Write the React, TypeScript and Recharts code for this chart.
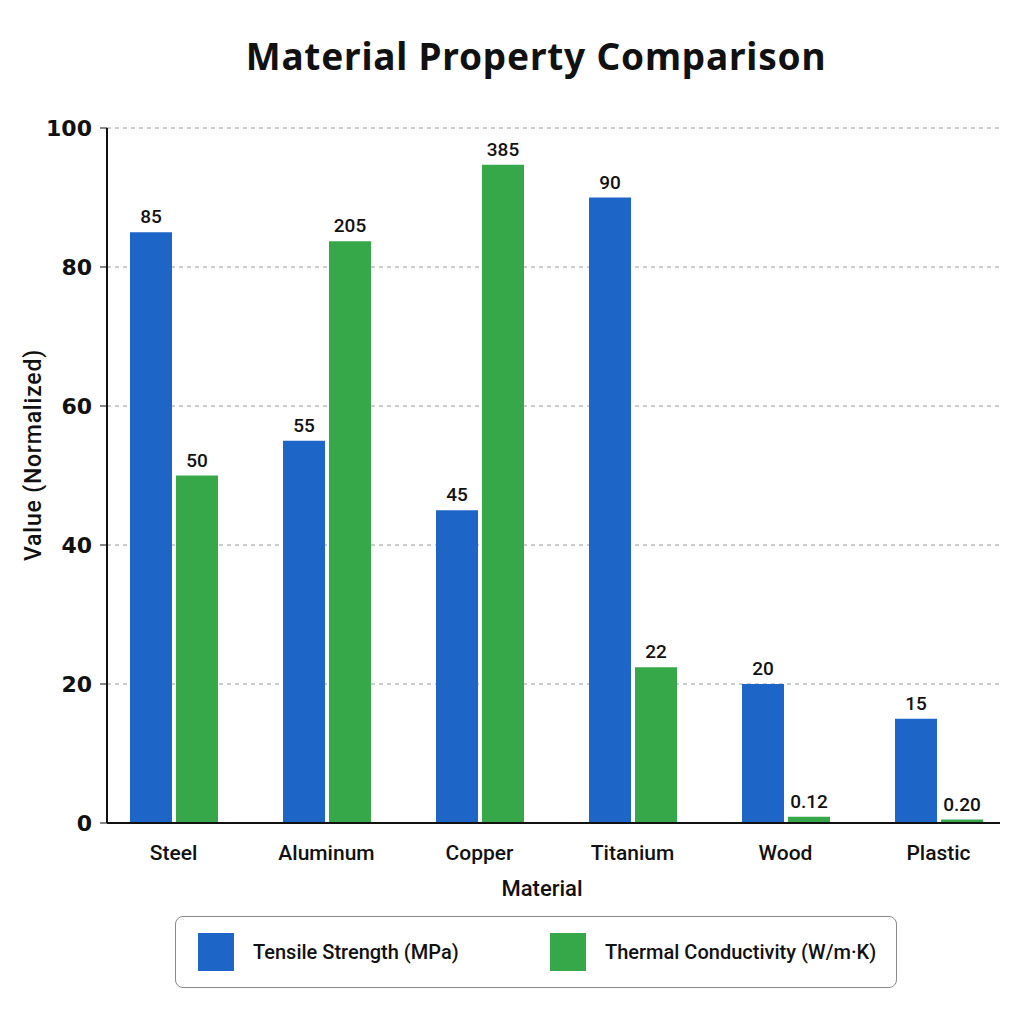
import { BarChart, Bar, XAxis, YAxis, CartesianGrid, LabelList } from "recharts";

const materials = ["Steel", "Aluminum", "Copper", "Titanium", "Wood", "Plastic"];
// bar heights on the normalized 0-100 scale
const tensileValues = [85, 55, 45, 90, 20, 15];
const thermalValues = [50, 83.7, 94.7, 22.4, 0.9, 0.5];
// raw values printed above the bars
const tensileLabels = ["85", "55", "45", "90", "20", "15"];
const thermalLabels = ["50", "205", "385", "22", "0.12", "0.20"];
const yTicks = [0, 20, 40, 60, 80, 100];

const BLUE = "#1d66c8";
const GREEN = "#37a84a";
const FONT = "Roboto, 'Noto Sans', sans-serif";

const chartData = materials.map((name, i) => ({
  name,
  tensile: tensileValues[i],
  thermal: thermalValues[i],
  tensileLabel: tensileLabels[i],
  thermalLabel: thermalLabels[i],
}));

function LegendBox() {
  const item = (color: string, text: string, left: number) => (
    <div style={{ position: "absolute", left, top: 16, display: "flex", alignItems: "center" }}>
      <div style={{ width: 36, height: 38, background: color }} />
      <span style={{ marginLeft: 19, fontSize: 20, fontWeight: 500, color: "#111" }}>{text}</span>
    </div>
  );
  return (
    <div
      style={{
        position: "absolute",
        left: 175,
        top: 916,
        width: 720,
        height: 70,
        border: "1.5px solid #8a8a8a",
        borderRadius: 8,
        background: "#fff",
        fontFamily: FONT,
      }}
    >
      {item(BLUE, "Tensile Strength (MPa)", 22)}
      {item(GREEN, "Thermal Conductivity (W/m·K)", 374)}
    </div>
  );
}

export default function App() {
  return (
    <div style={{ position: "absolute", left: 0, top: 0, width: 1024, height: 1024, background: "#fff", fontFamily: FONT }}>
      <div
        style={{
          position: "absolute",
          left: 536,
          top: 30,
          transform: "translateX(-50%)",
          whiteSpace: "nowrap",
          fontSize: 37,
          fontWeight: 700,
          letterSpacing: 0.8,
          color: "#111",
          fontFamily: "'Noto Sans', sans-serif",
        }}
      >
        Material Property Comparison
      </div>
      <div
        style={{
          position: "absolute",
          left: 33,
          top: 455,
          transform: "translate(-50%, -50%) rotate(-90deg)",
          fontSize: 23,
          fontWeight: 500,
          letterSpacing: 0.8,
          whiteSpace: "nowrap",
          color: "#111",
        }}
      >
        Value (Normalized)
      </div>
      <div
        style={{
          position: "absolute",
          left: 542,
          top: 888,
          transform: "translate(-50%, -50%)",
          fontSize: 22,
          fontWeight: 500,
          color: "#111",
        }}
      >
        Material
      </div>
      <BarChart
        width={1024}
        height={1024}
        data={chartData}
        margin={{ top: 128, right: 24, bottom: 131, left: 40 }}
        barSize={42}
        barGap={4}
      >
        <CartesianGrid vertical={false} stroke="#9a9a9a" strokeDasharray="4 4" />
        <XAxis
          dataKey="name"
          padding={{ left: -10, right: -15 }}
          axisLine={{ stroke: "#111", strokeWidth: 2 }}
          tickLine={false}
          tickSize={0}
          tickMargin={22}
          height={70}
          tick={{ fill: "#111", fontSize: 21, fontWeight: 500, fontFamily: FONT }}
          interval={0}
        />
        <YAxis
          domain={[0, 100]}
          ticks={yTicks}
          width={67}
          axisLine={{ stroke: "#111", strokeWidth: 2 }}
          tickLine={{ stroke: "#111" }}
          tickSize={7}
          tickMargin={8}
          tick={{ fill: "#111", fontSize: 22, fontWeight: 700, fontFamily: "'DejaVu Sans', sans-serif" }}
        />
        <Bar dataKey="tensile" fill={BLUE} isAnimationActive={false}>
          <LabelList dataKey="tensileLabel" position="top" offset={9} fill="#111" fontSize={19} fontWeight={500} fontFamily={FONT} />
        </Bar>
        <Bar dataKey="thermal" fill={GREEN} isAnimationActive={false}>
          <LabelList dataKey="thermalLabel" position="top" offset={9} fill="#111" fontSize={19} fontWeight={500} fontFamily={FONT} />
        </Bar>
      </BarChart>
      <LegendBox />
    </div>
  );
}
